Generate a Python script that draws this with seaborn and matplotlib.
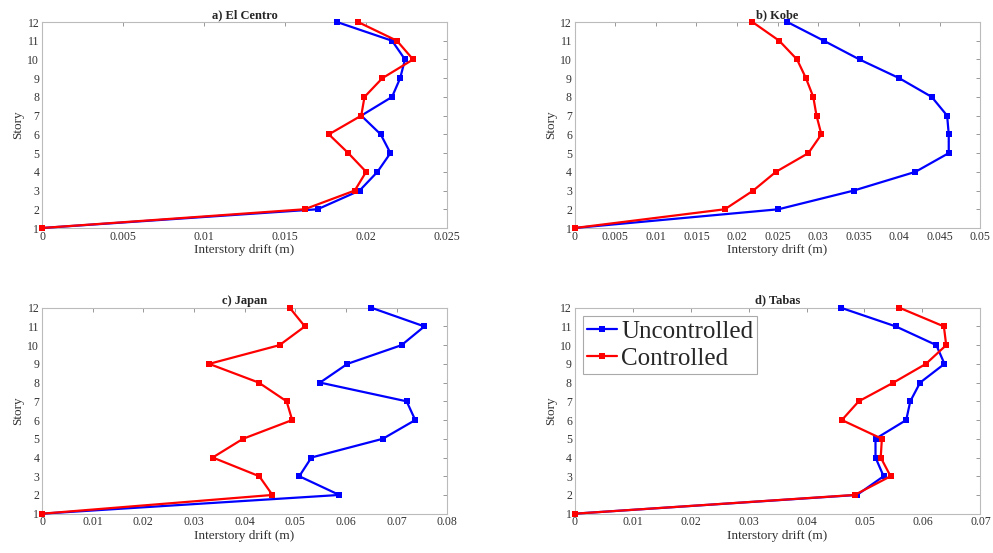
import matplotlib
matplotlib.use('Agg')
import matplotlib.pyplot as plt
import matplotlib.ticker as mticker
import seaborn as sns
import pandas as pd

stories = [1, 2, 3, 4, 5, 6, 7, 8, 9, 10, 11, 12]

# interstory drift (m), story 1..12
elcentro_unc = [0, 0.0170, 0.0196, 0.0207, 0.0215, 0.0209, 0.0197, 0.0216, 0.0221, 0.0224, 0.0216, 0.0182]
elcentro_con = [0, 0.0162, 0.0193, 0.0200, 0.0189, 0.0177, 0.0197, 0.0199, 0.0210, 0.0229, 0.0219, 0.0195]
kobe_unc = [0, 0.0251, 0.0344, 0.0420, 0.0461, 0.0461, 0.0459, 0.0440, 0.0400, 0.0351, 0.0307, 0.0262]
kobe_con = [0, 0.0185, 0.0220, 0.0248, 0.0288, 0.0304, 0.0298, 0.0294, 0.0285, 0.0274, 0.0252, 0.0219]
japan_unc = [0, 0.0587, 0.0508, 0.0532, 0.0673, 0.0737, 0.0720, 0.0549, 0.0603, 0.0710, 0.0755, 0.0650]
japan_con = [0, 0.0455, 0.0429, 0.0337, 0.0397, 0.0494, 0.0483, 0.0428, 0.0330, 0.0469, 0.0519, 0.0489]
tabas_unc = [0, 0.0487, 0.0533, 0.0519, 0.0519, 0.0572, 0.0579, 0.0596, 0.0638, 0.0624, 0.0554, 0.0459]
tabas_con = [0, 0.0483, 0.0545, 0.0528, 0.0530, 0.0461, 0.0490, 0.0550, 0.0606, 0.0641, 0.0637, 0.0560]

titles = ['a) El Centro', 'b) Kobe', 'c) Japan', 'd) Tabas']
series = [(elcentro_unc, elcentro_con), (kobe_unc, kobe_con),
          (japan_unc, japan_con), (tabas_unc, tabas_con)]
xmax = [0.025, 0.05, 0.08, 0.07]
xstep = [0.005, 0.005, 0.01, 0.01]

sns.set_style('white')
plt.rcParams['font.family'] = ['Liberation Serif', 'DejaVu Serif']

fig = plt.figure(figsize=(9.93, 5.53), dpi=100)
rects = [[0.0423, 0.5877, 0.408, 0.3725], [0.5788, 0.5877, 0.4085, 0.3725],
         [0.0423, 0.0711, 0.408, 0.3725], [0.5788, 0.0711, 0.4085, 0.3725]]

for i in range(4):
    ax = fig.add_axes(rects[i])
    unc, con = series[i]
    df = pd.DataFrame({'Story': stories * 2,
                       'drift': unc + con,
                       'case': ['Uncontrolled'] * 12 + ['Controlled'] * 12})
    sns.lineplot(data=df, x='drift', y='Story', hue='case', sort=False, estimator=None,
                 palette={'Uncontrolled': '#0000ff', 'Controlled': '#ff0000'},
                 marker='s', markersize=4.5, markeredgewidth=0, linewidth=1.6,
                 clip_on=False, zorder=3, ax=ax, legend=(i == 3))
    ax.set_xlim(0, xmax[i])
    ax.set_ylim(1, 12)
    ax.set_yticks(stories)
    ax.xaxis.set_major_locator(mticker.MultipleLocator(xstep[i]))
    ax.xaxis.set_major_formatter(mticker.FormatStrFormatter('%g'))
    ax.tick_params(direction='in', length=3, width=0.6, color='#888888',
                   labelsize=8.5, labelcolor='#333333', top=True, right=True, pad=2)
    for s in ax.spines.values():
        s.set_color('#bbbbbb')
        s.set_linewidth(0.8)
    ax.set_xlabel('Interstory drift (m)', fontsize=9.5, color='#333333', labelpad=1)
    ax.set_ylabel('Story', fontsize=9.5, color='#333333', labelpad=2)
    ax.set_title(titles[i], fontsize=9, fontweight='bold', pad=3)
    if i == 3:
        leg = ax.legend(loc='upper left', fontsize=18, handlelength=1.2, handletextpad=0.15,
                        borderpad=0.15, labelspacing=0.2, borderaxespad=0.35,
                        fancybox=False, framealpha=1, edgecolor='#aaaaaa')
        leg.get_frame().set_linewidth(0.8)
        leg.set_zorder(5)

plt.savefig('out.png', dpi=100)
